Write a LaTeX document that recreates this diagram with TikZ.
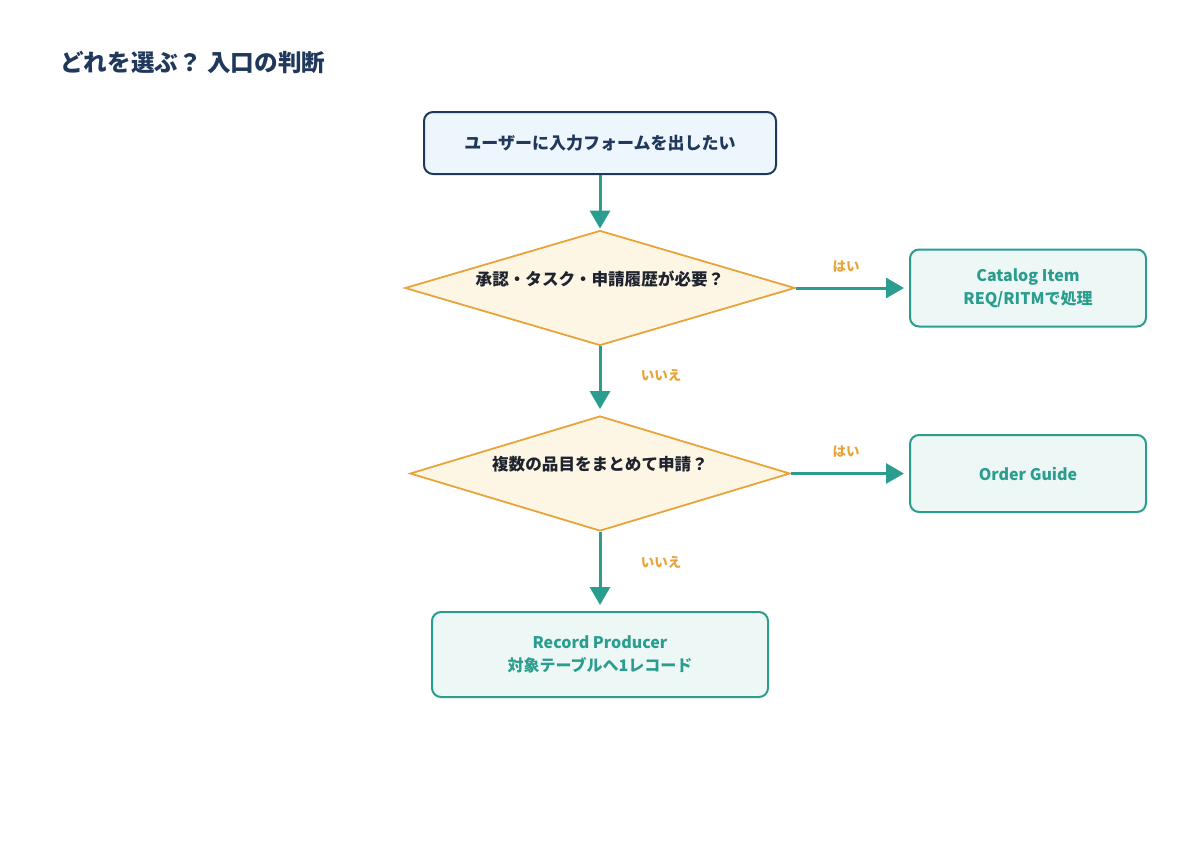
\documentclass[tikz,border=0pt]{standalone}
\usepackage{fontspec}
\setmainfont{Noto Sans CJK JP}
\usetikzlibrary{shapes.geometric,arrows.meta}

\definecolor{navy}{RGB}{31,56,91}
\definecolor{teal}{RGB}{42,157,143}
\definecolor{amber}{RGB}{232,164,58}
\definecolor{startfill}{RGB}{237,245,253}
\definecolor{askfill}{RGB}{254,246,229}
\definecolor{endfill}{RGB}{237,247,245}
\definecolor{ink}{RGB}{31,35,45}

\tikzset{
  startbox/.style={draw=navy,fill=startfill,line width=2pt,rounded corners=9,minimum width=352,minimum height=62,inner sep=0pt,text=navy,font=\bfseries\fontsize{17}{20}\selectfont},
  askbox/.style={diamond,draw=amber,fill=askfill,line width=1.8pt,inner sep=0pt},
  endbox/.style={draw=teal,fill=endfill,line width=2pt,rounded corners=9,inner sep=0pt,text=teal,align=center,font=\bfseries\fontsize{16}{23}\selectfont},
  asktext/.style={text=ink,font=\bfseries\fontsize{16.6}{20}\selectfont},
  answer/.style={text=amber,font=\bfseries\fontsize{13.5}{16}\selectfont},
  flow/.style={draw=teal,line width=3pt,-{Triangle[width=20pt,length=18pt]}}
}

\begin{document}
\begin{tikzpicture}[x=1pt,y=1pt,yscale=-1,xscale=1]
  \useasboundingbox (0,0) rectangle (1200,860);

  % Title
  \node (title) [anchor=west,inner sep=0pt,text=navy,font=\bfseries\fontsize{23.6}{26}\selectfont] at (60,63) {どれを選ぶ？ 入口の判断};

  % Start
  \node (start) [startbox] at (600,143) {ユーザーに入力フォームを出したい};

  % Questions
  \node (askone) [askbox,minimum width=390,minimum height=115] at (600,288) {};
  \node (askonetext) [asktext] at (600,279) {承認・タスク・申請履歴が必要？};
  \node (asktwo) [askbox,minimum width=380,minimum height=115] at (600,473.5) {};
  \node (asktwotext) [asktext] at (600,464.5) {複数の品目をまとめて申請？};

  % Results
  \node (catalog) [endbox,minimum width=236,minimum height=77] at (1028,288) {Catalog Item\\REQ/RITMで処理};
  \node (guide) [endbox,minimum width=236,minimum height=77] at (1028,473.5) {Order Guide};
  \node (producer) [endbox,minimum width=336,minimum height=85] at (600,654.5) {Record Producer\\対象テーブルへ1レコード};

  % Connectors
  \draw [flow] (start.south) -- ([yshift=-1]askone.north);
  \draw [flow] (askone.east) -- ([xshift=-5]catalog.west);
  \draw [flow] (askone.south) -- ([yshift=-6]asktwo.north);
  \draw [flow] (asktwo.east) -- ([xshift=-5]guide.west);
  \draw [flow] (asktwo.south) -- ([yshift=-6]producer.north);

  % Answers
  \node (yesone) [answer] at (846,267) {はい};
  \node (noone) [answer] at (661,375) {いいえ};
  \node (yestwo) [answer] at (846,452) {はい};
  \node (notwo) [answer] at (661,562) {いいえ};

\end{tikzpicture}
\end{document}
